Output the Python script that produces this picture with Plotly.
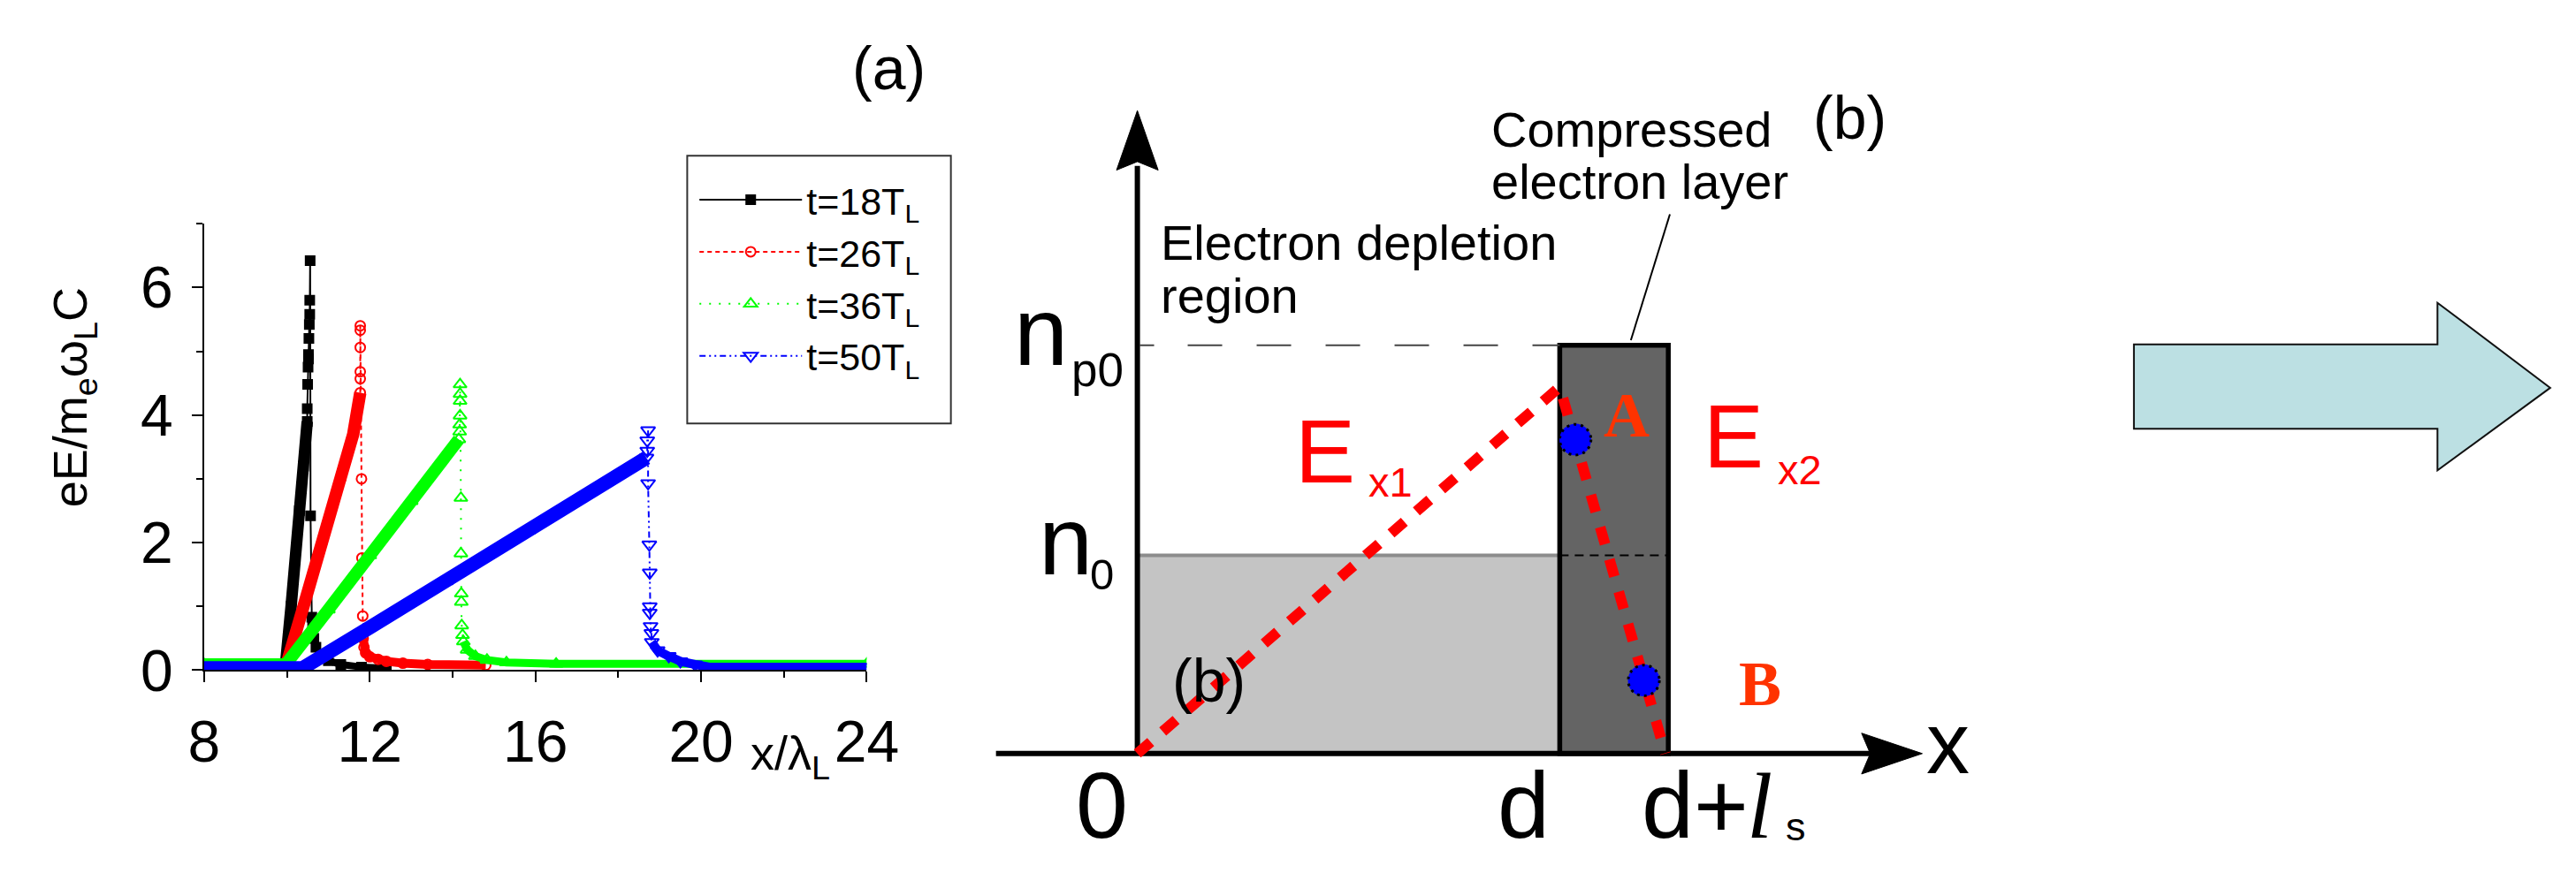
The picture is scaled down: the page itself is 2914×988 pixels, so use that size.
import plotly.graph_objects as go

W, H = 2914, 988
SANS = "Liberation Sans, Arial, Helvetica, sans-serif"
SERIF = "Liberation Serif, Times New Roman, serif"


def fx(px):
    return px / W


def fy(py):
    return 1.0 - py / H


# ---------------- panel (a) : data ----------------
x_tick_vals = [8, 12, 16, 20, 24]
x_tick_text = ["8", "12", "16", "20", "24"]
x_minor_vals = [10, 14, 18, 22]
y_tick_vals = [0, 2, 4, 6]
y_tick_text = ["0", "2", "4", "6"]
y_minor_vals = [1, 3, 5, 7]

series_names = ["t=18T<sub>L</sub>", "t=26T<sub>L</sub>", "t=36T<sub>L</sub>", "t=50T<sub>L</sub>"]

# t = 18 T_L
t18_rise_x = [8.0, 9.96, 10.1, 10.2, 10.3, 10.4, 10.49]
t18_rise_y = [0.05, 0.05, 1.0, 1.75, 2.5, 3.2, 3.9]
t18_peak_x = [10.49, 10.5, 10.51, 10.52, 10.52, 10.53, 10.54, 10.55, 10.55, 10.56, 10.57, 10.6]
t18_peak_y = [4.1, 4.48, 4.75, 4.88, 4.95, 5.2, 5.42, 5.58, 5.8, 6.42, 2.42, 0.83]
t18_tail_x = [10.62, 10.65, 10.7, 10.8, 11.0, 11.3, 11.8, 12.4]
t18_tail_y = [0.7, 0.5, 0.36, 0.25, 0.15, 0.09, 0.05, 0.03]

# t = 26 T_L
t26_rise_x = [8.0, 9.97, 10.4, 10.85, 11.3, 11.6, 11.77]
t26_rise_y = [0.05, 0.05, 1.0, 2.0, 3.0, 3.7, 4.35]
t26_peak_x = [11.77, 11.77, 11.77, 11.77, 11.77, 11.8, 11.81, 11.83]
t26_peak_y = [4.57, 4.68, 5.06, 5.33, 5.40, 3.0, 1.76, 0.85]
t26_tail_x = [11.84, 11.86, 11.9, 12.0, 12.2, 12.4, 12.8, 13.4, 14.8]
t26_tail_y = [0.5, 0.36, 0.27, 0.21, 0.17, 0.14, 0.11, 0.09, 0.08]

# t = 36 T_L
t36_rise_x = [8.0, 9.97, 11.0, 12.0, 13.0, 14.15]
t36_rise_y = [0.09, 0.09, 0.95, 1.8, 2.65, 3.62]
t36_peak_x = [14.17, 14.17, 14.18, 14.18, 14.18, 14.18, 14.2, 14.2, 14.21, 14.21, 14.22, 14.24]
t36_peak_y = [3.74, 3.85, 3.99, 4.22, 4.33, 4.48, 2.7, 1.83, 1.2, 1.07, 0.7, 0.55]
t36_tail_x = [14.26, 14.35, 14.55, 14.83, 15.3, 16.5, 24.0]
t36_tail_y = [0.45, 0.32, 0.22, 0.16, 0.12, 0.1, 0.1]

# t = 50 T_L
t50_rise_x = [8.0, 10.37, 12.0, 14.0, 16.0, 18.68]
t50_rise_y = [0.03, 0.03, 0.67, 1.45, 2.25, 3.33]
t50_peak_x = [18.7, 18.7, 18.72, 18.72, 18.75, 18.76, 18.76, 18.76, 18.78, 18.8]
t50_peak_y = [3.44, 3.6, 3.76, 2.93, 1.97, 1.53, 1.0, 0.9, 0.69, 0.58]
t50_tail_x = [18.81, 18.95, 19.22, 19.5, 19.85, 20.2, 24.0]
t50_tail_y = [0.44, 0.31, 0.22, 0.14, 0.09, 0.05, 0.05]

# ---------------- panel (b) : schematic quantities ----------------
d_val = 1.0          # depletion depth d
ls_val = 0.257       # compressed layer thickness l_s
n0_val = 1.0         # background density n0
np0_val = 2.06       # compressed-layer density n_p0
ex_x = [0.0, 1.0, 1.25]   # E_x profile (x in units of d)
ex_y = [0.0, 1.85, 0.0]
pts_x = [1.037, 1.199]    # points A and B
pts_y = [1.584, 0.369]

# ---------------- styles ----------------
styles = [
    dict(c="#000000", sym="square", ms=10, dash="solid", rw=13, tw=8),
    dict(c="#ff0000", sym="circle-open", ms=11, dash="5px,4px", rw=14, tw=10),
    dict(c="#00ff00", sym="triangle-up-open", ms=13, dash="2px,9px", rw=14, tw=9),
    dict(c="#0000ff", sym="triangle-down-open", ms=14, dash="7px,4px,2px,4px,2px,4px", rw=16, tw=10),
]
data_sets = [
    (t18_rise_x, t18_rise_y, t18_peak_x, t18_peak_y, t18_tail_x, t18_tail_y),
    (t26_rise_x, t26_rise_y, t26_peak_x, t26_peak_y, t26_tail_x, t26_tail_y),
    (t36_rise_x, t36_rise_y, t36_peak_x, t36_peak_y, t36_tail_x, t36_tail_y),
    (t50_rise_x, t50_rise_y, t50_peak_x, t50_peak_y, t50_tail_x, t50_tail_y),
]

fig = go.Figure()
for name, (rx, ry, pkx, pky, tx, ty), st in zip(series_names, data_sets, styles):
    fig.add_trace(go.Scatter(x=rx, y=ry, mode="lines", line=dict(color=st["c"], width=st["rw"]),
                             showlegend=False, hoverinfo="skip", xaxis="x", yaxis="y"))
    fig.add_trace(go.Scatter(x=tx, y=ty, mode="lines", line=dict(color=st["c"], width=st["tw"]),
                             showlegend=False, hoverinfo="skip", xaxis="x", yaxis="y"))
    fig.add_trace(go.Scatter(x=rx + pkx + tx, y=ry + pky + ty, mode="lines+markers", name=name,
                             line=dict(color=st["c"], width=2, dash=st["dash"]),
                             marker=dict(symbol=st["sym"], size=st["ms"], color=st["c"],
                                         line=dict(color=st["c"], width=2)),
                             xaxis="x", yaxis="y"))

# panel (b) traces
fig.add_trace(go.Scatter(x=ex_x, y=ex_y, mode="lines", line=dict(color="#ff0000", width=12, dash="20px,18px"),
                         showlegend=False, hoverinfo="skip", xaxis="x2", yaxis="y2"))
fig.add_trace(go.Scatter(x=pts_x, y=pts_y, mode="markers",
                         marker=dict(size=36, color="#0000ff", line=dict(width=0)),
                         showlegend=False, hoverinfo="skip", xaxis="x2", yaxis="y2"))

# ---------------- panel (b) geometry in pixel layout ----------------
B_X0, B_XS = 1293.0, 487.0   # px of x=0, px per unit d
B_Y0, B_YS = 886.0, 233.0    # px of n=0, px per unit n0


def bx(px):
    return (px - B_X0) / B_XS


def by(py):
    return (B_Y0 - py) / B_YS


vx_half = 24.0 / B_XS
hy_half = 24.0 / B_YS
dot_r = 18.0

shapes = [
    # legend frame
    dict(type="rect", xref="paper", yref="paper", x0=fx(774), x1=fx(1078), y0=fy(498), y1=fy(183),
         line=dict(color="#333333", width=2)),
    # light gray depletion region
    dict(type="rect", xref="x2", yref="y2", x0=0, x1=d_val, y0=0, y1=n0_val,
         fillcolor="#c4c4c4", line=dict(width=0), layer="below"),
    dict(type="line", xref="x2", yref="y2", x0=0, x1=d_val, y0=n0_val, y1=n0_val,
         line=dict(color="#8c8c8c", width=4), layer="below"),
    # compressed electron layer
    dict(type="rect", xref="x2", yref="y2", x0=d_val, x1=d_val + ls_val, y0=0, y1=np0_val,
         fillcolor="#646464", line=dict(color="black", width=5.5), layer="below"),
    # n_p0 dashed level
    dict(type="line", xref="x2", yref="y2", x0=bx(1296), x1=d_val, y0=np0_val, y1=np0_val,
         line=dict(color="#444444", width=2,
                   dash="16px,38px,39px,39px,39px,39px,39px,39px,39px,39px,39px,39px,39px,39px"),
         layer="below"),
    # n0 dashed level inside layer
    dict(type="line", xref="x2", yref="y2", x0=d_val, x1=d_val + ls_val, y0=n0_val, y1=n0_val,
         line=dict(color="black", width=2, dash="10px,7px"), layer="below"),
    # vertical axis
    dict(type="line", xref="x2", yref="y2", x0=0, x1=0, y0=0, y1=by(195),
         line=dict(color="black", width=6), layer="below"),
    dict(type="path", xref="x2", yref="y2",
         path=f"M 0 {by(130)} L {vx_half} {by(200)} L 0 {by(190)} L {-vx_half} {by(200)} Z",
         fillcolor="black", line=dict(color="black", width=1), layer="below"),
    # horizontal axis
    dict(type="line", xref="x2", yref="y2", x0=bx(1130), x1=bx(2140), y0=0, y1=0,
         line=dict(color="black", width=6), layer="below"),
    dict(type="path", xref="x2", yref="y2",
         path=f"M {bx(2198)} 0 L {bx(2128)} {hy_half} L {bx(2138)} 0 L {bx(2128)} {-hy_half} Z",
         fillcolor="black", line=dict(color="black", width=1), layer="below"),
    # leader line to the compressed layer
    dict(type="line", xref="paper", yref="paper", x0=fx(1907), y0=fy(252), x1=fx(1862), y1=fy(400),
         line=dict(color="black", width=2)),
    # big block arrow (right)
    dict(type="path", xref="paper", yref="paper",
         path=(f"M {fx(2442)} {fy(405)} L {fx(2792)} {fy(405)} L {fx(2792)} {fy(356)} "
               f"L {fx(2922)} {fy(456)} L {fx(2792)} {fy(553)} L {fx(2792)} {fy(504)} "
               f"L {fx(2442)} {fy(504)} Z"),
         fillcolor="#bce0e3", line=dict(color="#111111", width=2)),
]
# dotted outlines of points A and B
for px_, py_ in zip(pts_x, pts_y):
    shapes.append(dict(type="circle", xref="x2", yref="y2",
                       x0=px_ - dot_r / B_XS, x1=px_ + dot_r / B_XS,
                       y0=py_ - dot_r / B_YS, y1=py_ + dot_r / B_YS,
                       line=dict(color="black", width=3, dash="3px,5px")))

K_SANS = 0.3465
K_SERIF = 0.3375


def label(text, x_px, base_px, size, color="black", family=SANS, anchor="left", k=K_SANS):
    return dict(text=text, x=fx(x_px), y=fy(base_px - k * size), xref="paper", yref="paper",
                xanchor=anchor, yanchor="middle", showarrow=False,
                font=dict(size=size, color=color, family=family))


annotations = [
    label("(a)", 1007, 104, 68, anchor="center"),
    dict(text="eE/m<sub>e</sub>\u03c9<sub>L</sub>C", x=fx(66), y=fy(467), xref="paper", yref="paper",
         xanchor="center", yanchor="middle", textangle=-90, showarrow=False,
         font=dict(size=54, color="black", family=SANS)),
    dict(text="x/\u03bb<sub>L</sub>", x=fx(845), y=fy(889), xref="paper", yref="paper",
         xanchor="left", yanchor="middle", showarrow=False, font=dict(size=54, color="black", family=SANS)),
    # panel (b)
    label("(b)", 2114, 162, 68, anchor="center"),
    label("(b)", 1375, 824, 68, anchor="center"),
    label("Compressed", 1699, 172, 56),
    label("electron layer", 1699, 233, 56),
    label("Electron depletion", 1318, 305, 56),
    label("region", 1318, 367, 56),
    label("n", 1149, 427, 110),
    label("p0", 1215, 453, 53),
    label("n", 1177, 673, 110),
    label("0", 1236, 692, 49),
    label("E", 1473, 566, 102, color="#ff0000"),
    label("x1", 1557, 583, 47, color="#ff0000"),
    label("E", 1944, 549, 102, color="#ff0000"),
    label("x2", 2029, 568, 47, color="#ff0000"),
    label("<b>A</b>", 1857, 513, 72, color="#ff3300", family=SERIF, anchor="center", k=K_SERIF),
    label("<b>B</b>", 2011, 828, 72, color="#ff3300", family=SERIF, anchor="center", k=K_SERIF),
    label("0", 1252, 983, 106, anchor="center"),
    label("d", 1738, 983, 106, anchor="center"),
    label("d+", 1872, 983, 106),
    label("<i>l</i>", 1994, 983, 105, family=SERIF, k=K_SERIF),
    label("s", 2038, 987, 45),
    label("x", 2228, 908, 98, anchor="center"),
]

axis_common = dict(showline=True, linecolor="black", linewidth=2, ticks="outside", ticklen=12,
                   tickwidth=2, tickcolor="black", showgrid=False, zeroline=False,
                   tickfont=dict(size=66, family=SANS, color="black"))

fig.update_layout(
    width=W, height=H, margin=dict(l=0, r=0, t=0, b=0),
    paper_bgcolor="white", plot_bgcolor="rgba(0,0,0,0)", hovermode=False,
    showlegend=True,
    legend=dict(x=fx(783), y=fy(199), xanchor="left", yanchor="top",
                font=dict(size=43, family=SANS, color="black"),
                bgcolor="rgba(0,0,0,0)", borderwidth=0, itemwidth=116, tracegroupgap=0),
    xaxis=dict(domain=[fx(217), fx(981)], range=[8, 24], anchor="y",
               tickmode="array", tickvals=x_tick_vals, ticktext=x_tick_text,
               ticklabelstandoff=10,
               minor=dict(tickmode="array", tickvals=x_minor_vals, ticks="outside", ticklen=7,
                          tickwidth=2, tickcolor="black", showgrid=False),
               **axis_common),
    yaxis=dict(domain=[fy(788), fy(263)], range=[0, 7], anchor="x",
               tickmode="array", tickvals=y_tick_vals, ticktext=y_tick_text,
               ticklabelstandoff=8,
               minor=dict(tickmode="array", tickvals=y_minor_vals, ticks="outside", ticklen=7,
                          tickwidth=2, tickcolor="black", showgrid=False),
               **axis_common),
    xaxis2=dict(domain=[0, 1], range=[bx(0), bx(W)], anchor="y2", visible=False, fixedrange=True),
    yaxis2=dict(domain=[0, 1], range=[by(H), by(0)], anchor="x2", visible=False, fixedrange=True),
    shapes=shapes,
    annotations=annotations,
)

fig.write_html("out.html")
